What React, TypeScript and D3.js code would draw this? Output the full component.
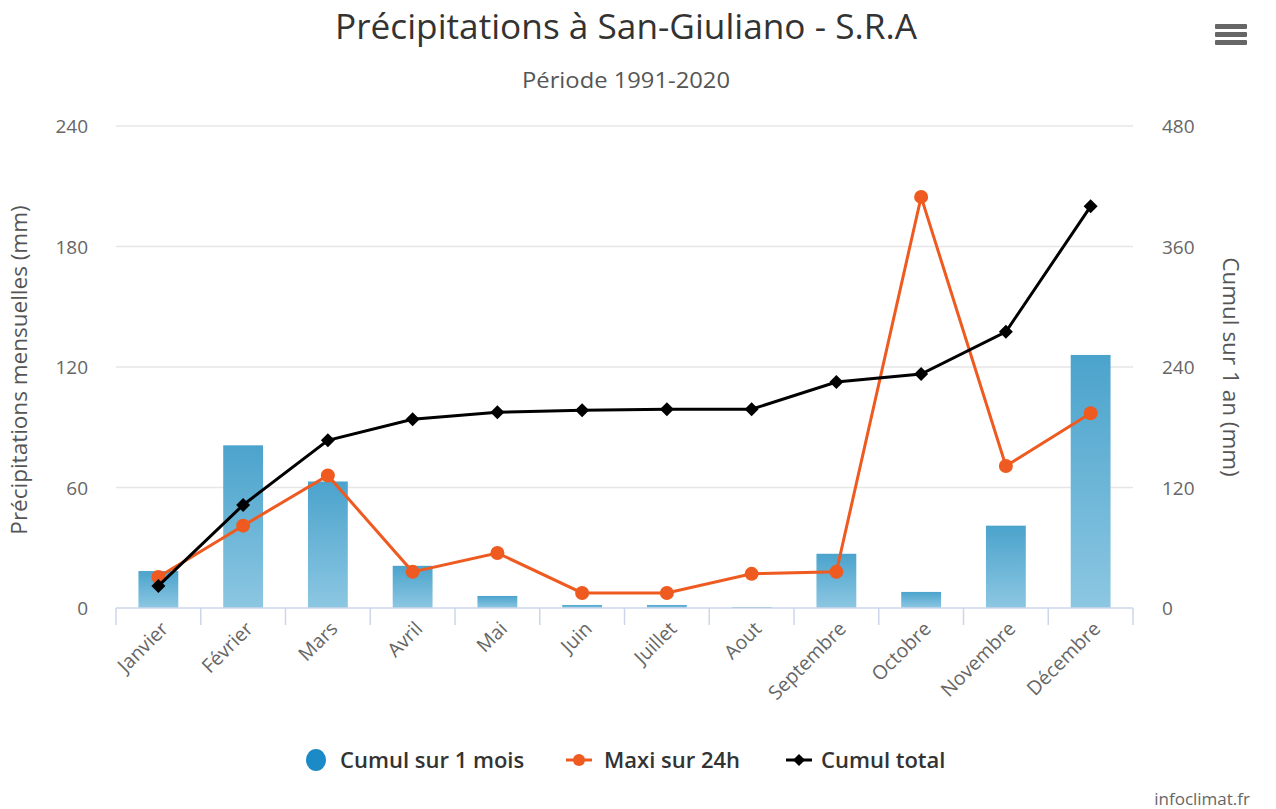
import React from "react";
import * as d3 from "d3";

const months = ["Janvier","Février","Mars","Avril","Mai","Juin","Juillet","Aout","Septembre","Octobre","Novembre","Décembre"];
const monthly = [18.4, 81, 63, 21, 6, 1.5, 1.5, 0.5, 27, 8, 41, 126];
const max24h = [15.4, 41, 66, 18, 27.4, 7.5, 7.5, 17, 18, 204.7, 70.7, 97];
const cumul = [22, 102.6, 167, 188, 195, 197, 198, 198, 225, 233, 275, 400];
const leftTicks = [0, 60, 120, 180, 240];
const rightTicks = [0, 120, 240, 360, 480];

const W = 1276, H = 809;
const L = 116, R = 1133, T = 126, B = 608;
const font = "'Open Sans', 'DejaVu Sans', sans-serif";

export default function App() {
  const x = d3.scaleBand<string>().domain(months).range([L, R]).paddingInner(0.53).paddingOuter(0.265);
  const xb = d3.scaleBand<string>().domain(months).range([L, R]);
  const yL = d3.scaleLinear().domain([0, 240]).range([B, T]);
  const yR = d3.scaleLinear().domain([0, 480]).range([B, T]);
  const cx = (m: string) => (xb(m) as number) + xb.bandwidth() / 2;
  const orangeLine = d3.line<number>().x((_, i) => cx(months[i])).y(d => yL(d))(max24h) || "";
  const blackLine = d3.line<number>().x((_, i) => cx(months[i])).y(d => yR(d))(cumul) || "";
  const orange = "#ee5a1f";
  const diamond = (px: number, py: number, s: number) => `M${px},${py - s}L${px + s},${py}L${px},${py + s}L${px - s},${py}Z`;

  return (
    <svg width={W} height={H} style={{ position: "absolute", left: 0, top: 0, background: "#fff" }} fontFamily={font}>
      <defs>
        <linearGradient id="barGrad" x1="0" y1="0" x2="0" y2="1">
          <stop offset="0%" stopColor="#4ba3cc" />
          <stop offset="100%" stopColor="#8cc7e2" />
        </linearGradient>
      </defs>
      <rect x={0} y={0} width={W} height={H} fill="#fff" />
      <text x={626} y={39} textAnchor="middle" fontSize={35} fill="#333" textLength={582} lengthAdjust="spacingAndGlyphs">Précipitations à San-Giuliano - S.R.A</text>
      <text x={626} y={88} textAnchor="middle" fontSize={22} fill="#555" textLength={208} lengthAdjust="spacingAndGlyphs">Période 1991-2020</text>
      {/* hamburger */}
      {[0, 1, 2].map(i => (
        <rect key={i} x={1215} y={24 + i * 8} width={32} height={5} rx={1} fill="#666" />
      ))}
      {/* grid */}
      {leftTicks.slice(1).map(t => (
        <line key={t} x1={L} x2={R} y1={yL(t)} y2={yL(t)} stroke="#e6e6e6" strokeWidth={1.5} />
      ))}
      {/* bars */}
      {months.map((m, i) => (
        <rect key={m} x={x(m)} y={yL(monthly[i])} width={x.bandwidth()} height={B - yL(monthly[i])} fill="url(#barGrad)" />
      ))}
      {/* x axis */}
      <line x1={L} x2={R} y1={B} y2={B} stroke="#ccd6eb" strokeWidth={1.5} />
      {d3.range(13).map(i => {
        const px = L + i * xb.step();
        return <line key={i} x1={px} x2={px} y1={B} y2={B + 17} stroke="#ccd6eb" strokeWidth={1.5} />;
      })}
      {months.map(m => (
        <text key={m} transform={`translate(${cx(m) + 11},${B + 22}) rotate(-45)`} textAnchor="end" fontSize={19.5} fill="#666">{m}</text>
      ))}
      {/* left ticks */}
      {leftTicks.map(t => (
        <text key={t} x={88} y={yL(t) + 7} textAnchor="end" fontSize={19} fill="#666">{t}</text>
      ))}
      {rightTicks.map(t => (
        <text key={t} x={1162} y={yR(t) + 7} textAnchor="start" fontSize={19} fill="#666">{t}</text>
      ))}
      <text transform={`translate(27,${(T + B) / 2 + 3}) rotate(-90)`} textAnchor="middle" fontSize={22.5} fill="#555">Précipitations mensuelles (mm)</text>
      <text transform={`translate(1223,${(T + B) / 2}) rotate(90)`} textAnchor="middle" fontSize={22.5} fill="#555">Cumul sur 1 an (mm)</text>
      {/* orange line */}
      <path d={orangeLine} fill="none" stroke={orange} strokeWidth={3} />
      {max24h.map((v, i) => (
        <circle key={i} cx={cx(months[i])} cy={yL(v)} r={7} fill={orange} />
      ))}
      {/* black line */}
      <path d={blackLine} fill="none" stroke="#000" strokeWidth={3} />
      {cumul.map((v, i) => (
        <path key={i} d={diamond(cx(months[i]), yR(v), 7)} fill="#000" />
      ))}
      {/* legend */}
      <g fontSize={22} fontWeight={600} fill="#333">
        <ellipse cx={316} cy={760} rx={10} ry={11} fill="#1c8ac6" />
        <text x={340} y={768}>Cumul sur 1 mois</text>
        <line x1={566} x2={592} y1={760} y2={760} stroke={orange} strokeWidth={3} />
        <circle cx={579} cy={760} r={6} fill={orange} />
        <text x={604} y={768}>Maxi sur 24h</text>
        <line x1={786} x2={812} y1={760} y2={760} stroke="#000" strokeWidth={3} />
        <path d={diamond(799, 760, 6)} fill="#000" />
        <text x={821} y={768}>Cumul total</text>
      </g>
      <text x={1250} y={805} textAnchor="end" fontSize={17} fill="#666">infoclimat.fr</text>
    </svg>
  );
}
